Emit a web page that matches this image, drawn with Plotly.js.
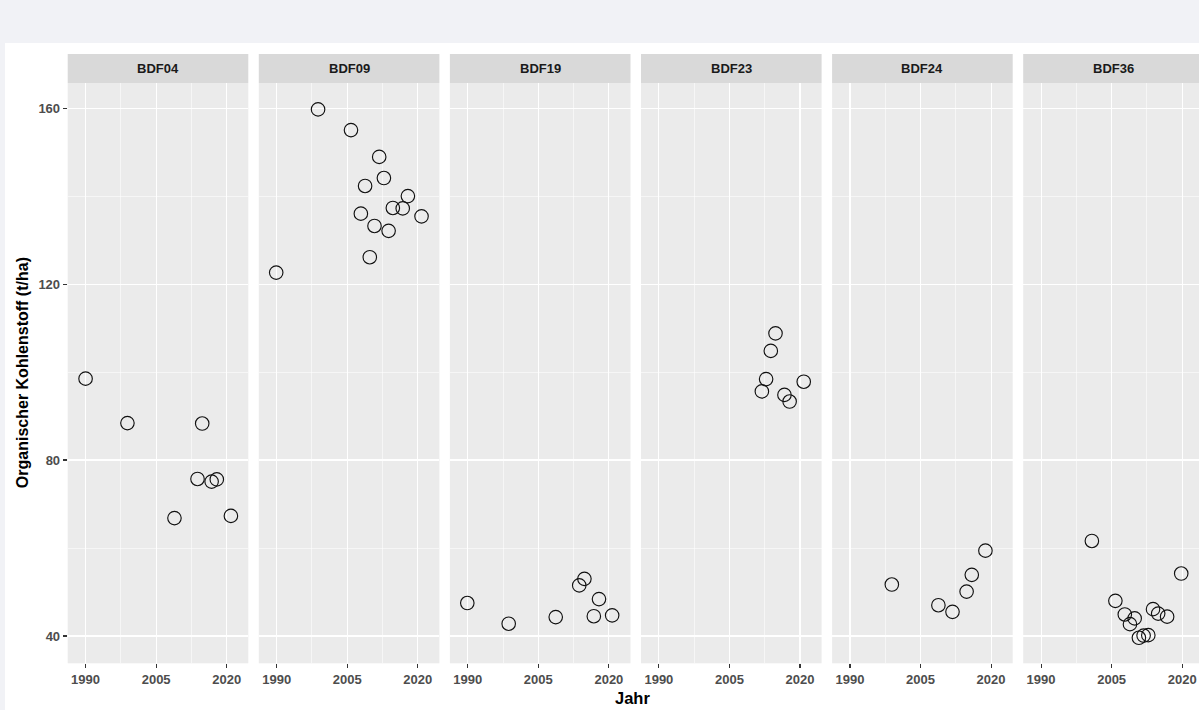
<!DOCTYPE html>
<html>
<head>
<meta charset="utf-8">
<script src="https://cdn.plot.ly/plotly-3.0.1.min.js"></script>
<style>
  html, body { margin: 0; padding: 0; width: 1199px; height: 710px; overflow: hidden; background: #f1f2f6; }
  #chart { position: absolute; left: 5px; top: 43px; width: 1200px; height: 667px; background: #ffffff; }
</style>
</head>
<body>
<div id="chart"></div>
<script>
// ---- Data ----
const sites = ['BDF04', 'BDF09', 'BDF19', 'BDF23', 'BDF24', 'BDF36'];

const yearsBDF04 = [1990.0, 1998.9, 2008.9, 2014.8, 2013.8, 2016.8, 2017.9, 2020.9];
const carbonBDF04 = [98.5, 88.4, 66.8, 88.3, 75.7, 75.1, 75.6, 67.3];

const yearsBDF09 = [1998.8, 2005.8, 2011.8, 2012.8, 2008.8, 2017.9, 2014.7, 2016.8, 2020.8, 2007.9, 2010.8, 2013.8, 2009.8, 1989.9];
const carbonBDF09 = [159.7, 155.0, 148.9, 144.1, 142.3, 140.0, 137.3, 137.2, 135.4, 136.0, 133.2, 132.1, 126.1, 122.6];

const yearsBDF19 = [1989.9, 1998.7, 2008.7, 2013.7, 2014.8, 2017.9, 2016.8, 2020.7];
const carbonBDF19 = [47.5, 42.8, 44.3, 51.5, 53.0, 48.4, 44.5, 44.7];

const yearsBDF23 = [2014.8, 2013.8, 2012.8, 2011.9, 2020.8, 2016.7, 2017.8];
const carbonBDF23 = [108.8, 104.8, 98.4, 95.6, 97.8, 94.8, 93.3];

const yearsBDF24 = [1998.9, 2008.8, 2011.8, 2014.8, 2015.9, 2018.8];
const carbonBDF24 = [51.7, 47.0, 45.5, 50.1, 53.9, 59.4];

const yearsBDF36 = [2000.8, 2005.8, 2007.8, 2008.9, 2009.9, 2010.8, 2011.8, 2012.8, 2013.8, 2014.9, 2016.8, 2019.8];
const carbonBDF36 = [61.6, 48.0, 44.9, 42.7, 44.0, 39.6, 40.1, 40.2, 46.1, 45.1, 44.4, 54.2];

const xTickVals = [1990, 2005, 2020];
const xTickText = ['1990', '2005', '2020'];
const yTickVals = [40, 80, 120, 160];
const yTickText = ['40', '80', '120', '160'];

const yearsBySite = [yearsBDF04, yearsBDF09, yearsBDF19, yearsBDF23, yearsBDF24, yearsBDF36];
const carbonBySite = [carbonBDF04, carbonBDF09, carbonBDF19, carbonBDF23, carbonBDF24, carbonBDF36];

// ---- Layout geometry (pixels inside the chart div) ----
const W = 1200, H = 667;
const panelLeft0 = 62.7, panelW = 180.6, panelStep = 191.1;
const plotTop = 40, plotBottom = 620.3, stripTop = 11;

const fontFam = '"Liberation Sans", Arial, sans-serif';
const tickFont = { family: fontFam, size: 13, color: '#4d4d4d', weight: 'bold' };

const traces = [];
const layout = {
  width: W, height: H,
  margin: { l: 0, r: 0, t: 0, b: 0 },
  paper_bgcolor: '#ffffff',
  plot_bgcolor: '#ebebeb',
  showlegend: false,
  shapes: [],
  annotations: []
};

const yDomain = [(H - plotBottom) / H, (H - plotTop) / H];

sites.forEach((site, i) => {
  const k = i + 1;
  const xName = 'xaxis' + (k === 1 ? '' : k);
  const yName = 'yaxis' + (k === 1 ? '' : k);
  const xRef = 'x' + (k === 1 ? '' : k);
  const yRef = 'y' + (k === 1 ? '' : k);
  const left = panelLeft0 + panelStep * i;
  const right = left + panelW;
  const xDom = [left / W, Math.min(right / W, 1)];

  traces.push({
    type: 'scatter', mode: 'markers',
    x: yearsBySite[i], y: carbonBySite[i],
    xaxis: xRef, yaxis: yRef,
    marker: { symbol: 'circle-open', size: 13.5, color: '#111111', line: { width: 1.15 } },
    hoverinfo: 'x+y'
  });

  layout[xName] = {
    domain: xDom, anchor: yRef,
    range: [1986.2, 2024.6],
    tickmode: 'array', tickvals: xTickVals, ticktext: xTickText,
    ticks: 'outside', ticklen: 4, tickwidth: 1.1, tickcolor: '#333333',
    tickfont: tickFont,
    showgrid: true, gridcolor: '#ffffff', gridwidth: 1.1,
    minor: { tickvals: [1982.5, 1997.5, 2012.5], showgrid: true, gridcolor: '#ffffff', gridwidth: 0.55, ticks: '' },
    zeroline: false, showline: false, fixedrange: true
  };
  layout[yName] = {
    domain: yDomain, anchor: xRef,
    range: [33.8, 165.7],
    tickmode: 'array', tickvals: yTickVals, ticktext: yTickText,
    ticks: i === 0 ? 'outside' : '', ticklen: 4, tickwidth: 1.1, tickcolor: '#333333',
    showticklabels: i === 0,
    tickfont: tickFont,
    showgrid: true, gridcolor: '#ffffff', gridwidth: 1.1,
    minor: { tickvals: [60, 100, 140], showgrid: true, gridcolor: '#ffffff', gridwidth: 0.55, ticks: '' },
    zeroline: false, showline: false, fixedrange: true
  };
  if (i > 0) layout[yName].matches = 'y';

  // facet strip
  layout.shapes.push({
    type: 'rect', xref: 'paper', yref: 'paper', layer: 'below',
    x0: left / W, x1: right / W,
    y0: (H - plotTop) / H, y1: (H - stripTop) / H,
    fillcolor: '#d9d9d9', line: { width: 0 }
  });
  layout.annotations.push({
    xref: 'paper', yref: 'paper',
    x: (left + panelW / 2) / W, y: (H - (plotTop + stripTop) / 2) / H,
    xanchor: 'center', yanchor: 'middle', showarrow: false,
    text: site,
    font: { family: fontFam, size: 13, color: '#1a1a1a', weight: 'bold' }
  });
});

// axis titles
layout.annotations.push({
  xref: 'paper', yref: 'paper', x: 17 / W, y: 1 - ((plotTop + plotBottom) / 2) / H,
  xanchor: 'center', yanchor: 'middle', showarrow: false, textangle: -90,
  text: 'Organischer Kohlenstoff (t/ha)',
  font: { family: fontFam, size: 16, color: '#000000', weight: 'bold' }
});
layout.annotations.push({
  xref: 'paper', yref: 'paper', x: 627 / W, y: 1 - 655 / H,
  xanchor: 'center', yanchor: 'middle', showarrow: false,
  text: 'Jahr',
  font: { family: fontFam, size: 16.5, color: '#000000', weight: 'bold' }
});

Plotly.newPlot('chart', traces, layout, { displayModeBar: false, staticPlot: true });
</script>
</body>
</html>
